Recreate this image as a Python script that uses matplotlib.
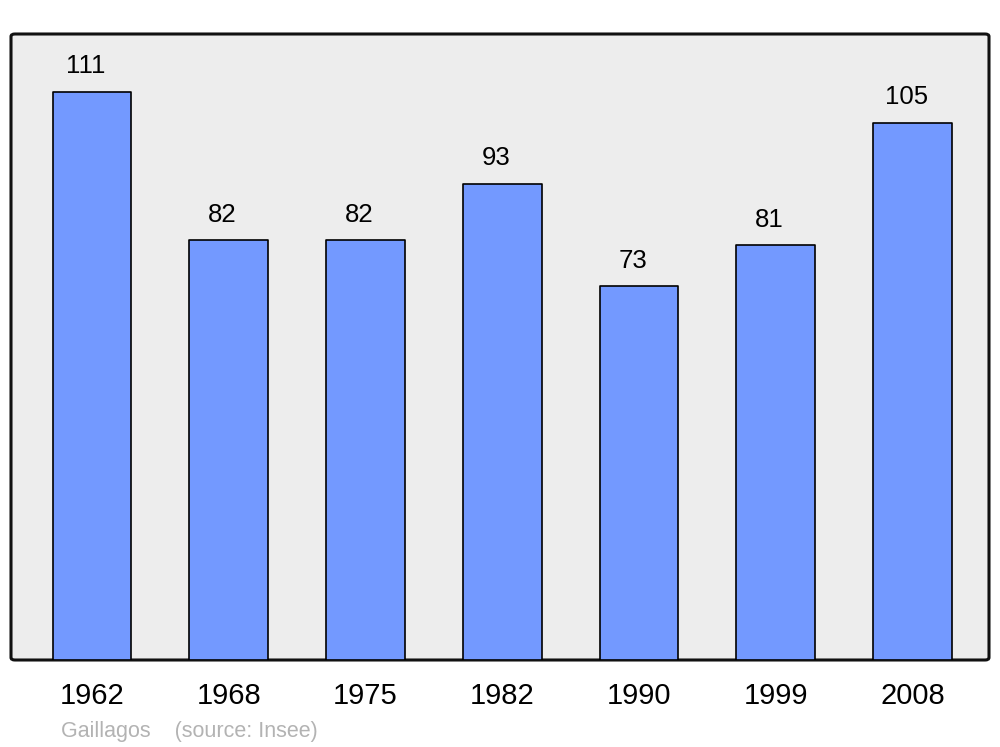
import matplotlib.pyplot as plt
from matplotlib.patches import FancyBboxPatch
import numpy as np

# ==== data ====
years = ["1962", "1968", "1975", "1982", "1990", "1999", "2008"]
population = [111, 82, 82, 93, 73, 81, 105]
place = "Gaillagos"
source = "(source: Insee)"

plt.rcParams["font.family"] = ["Liberation Sans", "DejaVu Sans"]

fig = plt.figure(figsize=(10, 7.47), dpi=100)
ax = fig.add_axes([11/1000, 1 - 660/747, 978/1000, 626/747])
ax.set_facecolor("none")

# background frame with rounded corners
frame = FancyBboxPatch((0, 0), 1, 1, boxstyle="round,pad=0,rounding_size=0.004",
                       transform=ax.transAxes, facecolor="#ededed",
                       edgecolor="#111111", linewidth=2.2, clip_on=False, zorder=0)
ax.add_patch(frame)

x = np.arange(len(years))
bars = ax.bar(x, population, width=0.575, color="#7399ff",
              edgecolor="black", linewidth=1.2, joinstyle="round", zorder=2)

for xi, v in zip(x, population):
    ax.annotate(str(v), (xi, v), xytext=(-4.5, 13.5), textcoords="offset points",
                ha="center", va="baseline", fontsize=18.5)

ax.set_xlim(-0.593, 6.56)
ax.set_ylim(0, 122.3)
ax.set_xticks(x)
ax.set_xticklabels(years, fontsize=21)
ax.tick_params(axis="x", length=0, pad=16)
ax.set_yticks([])
for s in ax.spines.values():
    s.set_visible(False)

fig.text(61/1000, 1 - 737/747, place + "    " + source,
         fontsize=15.5, color="#b3b3b3", va="baseline")

fig.savefig("out.png", dpi=100)
